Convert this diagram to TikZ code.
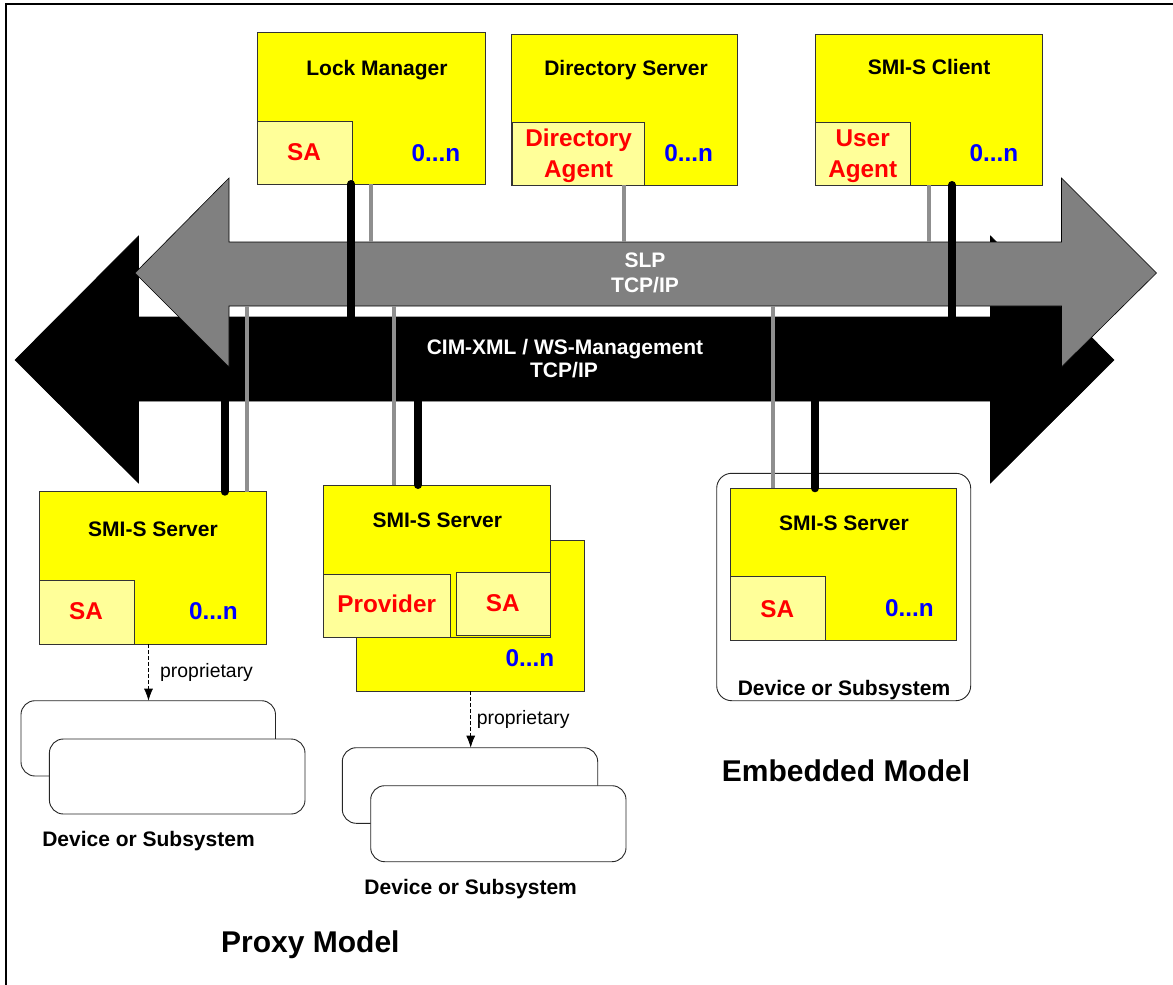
\documentclass[tikz,border=0pt]{standalone}
\usepackage{fontspec}
\setmainfont{Liberation Sans}
\usetikzlibrary{arrows.meta,calc}
\definecolor{yel}{HTML}{FFFF00}
\definecolor{lyel}{HTML}{FFFF99}
\definecolor{agray}{HTML}{808080}
\definecolor{lgray}{HTML}{8F8F8F}
\definecolor{myred}{HTML}{FF0000}
\definecolor{myblue}{HTML}{0000FF}
\begin{document}
\begin{tikzpicture}[x=1pt,y=-1pt,
 box/.style={draw=black!80, line width=0.8pt, fill=yel, inner sep=0pt, outer sep=0pt, anchor=north west},
 subbox/.style={draw=black!80, line width=0.8pt, fill=lyel, inner sep=0pt, outer sep=0pt, anchor=north west},
 devbox/.style={draw=black!85, line width=0.9pt, fill=white, rounded corners=14pt, inner sep=0pt, outer sep=0pt, anchor=north west},
 lbl/.style={inner sep=0pt, text depth=0pt},
 ttl/.style={lbl, text height=15pt, font=\bfseries\fontsize{21}{24}\selectfont, text=black},
 redt/.style={lbl, text height=17.4pt, font=\bfseries\fontsize{24.3}{28}\selectfont, text=myred},
 bluet/.style={lbl, text height=17.4pt, font=\bfseries\fontsize{24.3}{28}\selectfont, text=myblue},
 bust/.style={lbl, text height=15pt, font=\bfseries\fontsize{21}{24}\selectfont, text=white},
 propt/.style={inner sep=0pt, font=\fontsize{19.4}{22}\selectfont, anchor=west},
 modelt/.style={lbl, text height=21.5pt, font=\bfseries\fontsize{30}{34}\selectfont},
 bline/.style={line width=8pt, line cap=round, black},
 gline/.style={line width=4pt, lgray},
 dline/.style={line width=0.8pt, dash pattern=on 4pt off 2pt, -{Latex[length=12pt,width=9pt]}}
]
\useasboundingbox (0,0) rectangle (1173,985);
% frame
\draw[line width=2pt] (6,985) -- (6,4) -- (1173,4);

% bus arrows
\draw[fill=black, draw=black, line width=0.6pt]
  (15,360) -- (138.5,236) -- (138.5,317) -- (990.5,317) -- (990.5,236) -- (1114,360)
  -- (990.5,483) -- (990.5,401) -- (138.5,401) -- (138.5,483) -- cycle;
\draw[fill=agray, draw=black, line width=0.6pt]
  (135,273) -- (229,178) -- (229,242) -- (1061.5,242) -- (1061.5,178) -- (1156.5,273)
  -- (1061.5,367) -- (1061.5,306) -- (229,306) -- (229,367) -- cycle;
\coordinate (slpTop) at (0,242);
\coordinate (slpBot) at (0,306);
\coordinate (cimTop) at (0,317);
\coordinate (cimBot) at (0,401);

\node[bust] (slp1) at (645,260) {SLP};
\node[bust] (slp2) at (645,285) {TCP/IP};
\node[bust] (cim1) at (565,347) {CIM-XML / WS-Management};
\node[bust] (cim2) at (564,370) {TCP/IP};

% top boxes
\node[box, minimum width=228pt, minimum height=152pt] (lm) at (257,32) {};
\node[subbox, minimum width=95pt, minimum height=63pt] (lmsa) at (257,121) {};
\node[ttl] (lmt) at (377,68) {Lock Manager};
\node[redt] (lmsat) at (304,152) {SA};
\node[bluet] (lmn) at (436,153) {0...n};

\node[box, minimum width=226.5pt, minimum height=151pt] (ds) at (511,34) {};
\node[subbox, minimum width=132pt, minimum height=63pt] (dsa) at (512.5,122) {};
\node[ttl] (dst) at (626,68) {Directory Server};
\node[redt] (dsa1) at (578.6,137.5) {Directory};
\node[redt] (dsa2) at (578.6,168.5) {Agent};
\node[bluet] (dsn) at (688.6,153) {0...n};

\node[box, minimum width=226.3pt, minimum height=151pt] (cl) at (815.7,34) {};
\node[subbox, minimum width=94.3pt, minimum height=63pt] (cla) at (815.7,122) {};
\node[ttl] (clt) at (929,67) {SMI-S Client};
\node[redt] (cla1) at (862.7,137.5) {User};
\node[redt] (cla2) at (862.7,168.5) {Agent};
\node[bluet] (cln) at (994,153) {0...n};

% left proxy server
\node[box, minimum width=227.3pt, minimum height=152.3pt] (ls) at (39.4,491.7) {};
\node[subbox, minimum width=95pt, minimum height=63.3pt] (lssa) at (39.4,580.7) {};
\node[ttl] (lst) at (153,529) {SMI-S Server};
\node[redt] (lssat) at (86,611) {SA};
\node[bluet] (lsn) at (213.5,611) {0...n};

\node[devbox, minimum width=254.5pt, minimum height=75.3pt] (ldb) at (21,700.7) {};
\node[devbox, minimum width=255.6pt, minimum height=75pt] (ldf) at (49.4,739) {};
\node[ttl] (ldt) at (148.5,839) {Device or Subsystem};

% middle proxy server
\node[box, minimum width=228pt, minimum height=151pt] (mb) at (356,540) {};
\node[box, minimum width=226.7pt, minimum height=152.7pt] (ms) at (323.3,485) {};
\node[subbox, minimum width=127.4pt, minimum height=63pt] (mprov) at (323.3,574.7) {};
\node[subbox, minimum width=93.7pt, minimum height=63.4pt] (msa) at (456.3,572.3) {};
\node[ttl] (mst) at (437.3,520) {SMI-S Server};
\node[redt] (mprovt) at (386.7,604) {Provider};
\node[redt] (msat) at (502.7,602.7) {SA};
\node[bluet] (msn) at (530,657.7) {0...n};

\node[devbox, minimum width=255.4pt, minimum height=75.6pt] (mdb) at (342.3,747.7) {};
\node[devbox, minimum width=255.3pt, minimum height=76pt] (mdf) at (370.7,785.7) {};
\node[ttl] (mdt) at (470.7,886.7) {Device or Subsystem};

% embedded
\node[devbox, rounded corners=15pt, minimum width=254pt, minimum height=227.4pt] (eo) at (716.7,473.3) {};
\node[box, minimum width=226pt, minimum height=151.7pt] (es) at (730.7,488.3) {};
\node[subbox, minimum width=94.6pt, minimum height=63.3pt] (essa) at (730.7,576.7) {};
\node[ttl] (est) at (844,522.7) {SMI-S Server};
\node[redt] (essat) at (777.3,608.3) {SA};
\node[bluet] (esn) at (909.3,608) {0...n};
\node[ttl] (eot) at (844,688.3) {Device or Subsystem};

% model labels
\node[modelt] (emb) at (846,771) {Embedded Model};
\node[modelt] (prx) at (310.4,941.7) {Proxy Model};

% connector x positions
\coordinate (x1) at (351,0);
\coordinate (x2) at (370.5,0);
\coordinate (x3) at (624,0);
\coordinate (x4) at (928.7,0);
\coordinate (x5) at (952,0);
\coordinate (x6) at (224.6,0);
\coordinate (x7) at (247,0);
\coordinate (x8) at (394,0);
\coordinate (x9) at (418,0);
\coordinate (x10) at (773,0);
\coordinate (x11) at (815,0);
\coordinate (p1) at (148.5,0);
\coordinate (p2) at (470.7,0);

% connectors
\draw[gline] (lm.south -| x2) -- (slpTop -| x2);
\draw[bline] (lm.south -| x1) -- (cimTop -| x1);
\draw[gline] (ds.south -| x3) -- (slpTop -| x3);
\draw[gline] (cl.south -| x4) -- (slpTop -| x4);
\draw[bline] (cl.south -| x5) -- (cimTop -| x5);
\draw[bline] (cimBot -| x6) -- (ls.north -| x6);
\draw[gline] (slpBot -| x7) -- (ls.north -| x7);
\draw[gline] (slpBot -| x8) -- (ms.north -| x8);
\draw[bline] (cimBot -| x9) -- (ms.north -| x9);
\draw[gline] (slpBot -| x10) -- (es.north -| x10);
\draw[bline] (cimBot -| x11) -- (es.north -| x11);

% proprietary links
\draw[dline] (ls.south -| p1) -- (ldb.north -| p1);
\node[propt] (pr1) at (160,672.7) {proprietary};
\draw[dline] (mb.south -| p2) -- (mdb.north -| p2);
\node[propt] (pr2) at (476.7,719.3) {proprietary};
\end{tikzpicture}
\end{document}
